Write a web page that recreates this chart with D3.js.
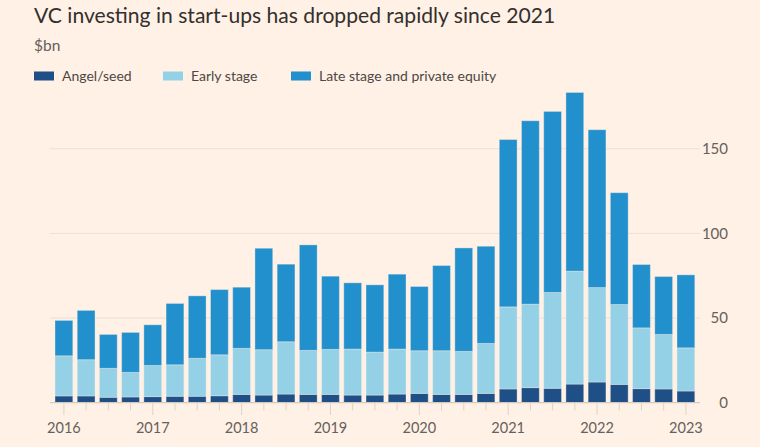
<!DOCTYPE html>
<html>
<head>
<meta charset="utf-8">
<script src="https://cdn.jsdelivr.net/npm/d3@7"></script>
<style>
  body { margin: 0; background: #fff1e5; }
  svg text { font-family: Lato, "Noto Sans", sans-serif; }
</style>
</head>
<body>
<svg id="chart" width="760" height="447"></svg>
<script>
// quarterly, Q1 2016 .. Q1 2023
const quarters = ['2016 Q1','2016 Q2','2016 Q3','2016 Q4','2017 Q1','2017 Q2','2017 Q3','2017 Q4',
  '2018 Q1','2018 Q2','2018 Q3','2018 Q4','2019 Q1','2019 Q2','2019 Q3','2019 Q4',
  '2020 Q1','2020 Q2','2020 Q3','2020 Q4','2021 Q1','2021 Q2','2021 Q3','2021 Q4',
  '2022 Q1','2022 Q2','2022 Q3','2022 Q4','2023 Q1'];
const angel = [4.0, 4.0, 3.2, 3.4, 3.6, 3.8, 3.8, 4.1, 4.9, 4.5, 5.1, 4.9, 4.9, 4.5, 4.5, 5.1,
  5.5, 4.9, 4.9, 5.5, 8.1, 8.9, 8.5, 11.0, 12.2, 10.8, 8.3, 8.1, 6.9];
const early = [23.7, 21.4, 17.1, 14.5, 18.4, 18.6, 22.4, 24.2, 27.2, 26.8, 30.9, 26.0, 26.6, 27.2, 25.4, 26.6,
  25.2, 25.8, 25.4, 29.5, 48.5, 49.3, 56.6, 66.7, 55.8, 47.2, 35.9, 32.2, 25.5];
const late = [20.9, 29.1, 20.0, 23.6, 24.0, 36.2, 36.9, 38.5, 36.1, 59.9, 45.8, 62.3, 43.2, 39.1, 39.7, 44.2,
  37.9, 50.3, 61.1, 57.4, 98.8, 108.3, 106.9, 105.5, 93.2, 66.0, 37.4, 34.2, 43.1];
const yTicks = [0, 50, 100, 150];
const seriesNames = ['Angel/seed', 'Early stage', 'Late stage and private equity'];
const seriesColors = ['#1e4f86', '#95d1e6', '#2190cc'];

const svg = d3.select('#chart');
svg.append('rect').attr('width', 760).attr('height', 447).attr('fill', '#fff1e5');

svg.append('text').attr('x', 34).attr('y', 23).attr('fill', '#33302e')
  .style('font-size', '21.1px').text('VC investing in start-ups has dropped rapidly since 2021');
svg.append('text').attr('x', 34).attr('y', 51).attr('fill', '#66605c')
  .style('font-size', '15.5px').text('$bn');

const legendX = [34, 163, 291];
const legend = svg.append('g').attr('id', 'legend');
seriesNames.forEach(function(name, i) {
  legend.append('rect').attr('x', legendX[i]).attr('y', 71.5).attr('width', 20).attr('height', 9)
    .attr('fill', seriesColors[i]);
  legend.append('text').attr('x', legendX[i] + 28).attr('y', 80.5).attr('fill', '#4d4845')
    .style('font-size', '14px').text(name);
});

const x = d3.scaleBand().domain(quarters).range([52.8, 697]).paddingInner(0.2).paddingOuter(0.1);
const y = d3.scaleLinear().domain([0, 150]).range([402.7, 148.7]);

// gridlines + y labels
const grid = svg.append('g').attr('id', 'grid');
grid.selectAll('line').data(yTicks.filter(function(d) { return d > 0; })).enter().append('line')
  .attr('x1', 50).attr('x2', 700)
  .attr('y1', function(d) { return y(d); }).attr('y2', function(d) { return y(d); })
  .attr('stroke', '#e9e0d8').attr('stroke-width', 1);
grid.selectAll('text').data(yTicks).enter().append('text')
  .attr('x', 728).attr('y', function(d) { return y(d); }).attr('dy', '0.35em')
  .attr('text-anchor', 'end').attr('fill', '#66605c').style('font-size', '15px')
  .text(function(d) { return d; });

// stacked bars
const rows = quarters.map(function(q, i) {
  return { quarter: q, angel: angel[i], early: early[i], late: late[i] };
});
const stack = d3.stack().keys(['angel', 'early', 'late'])(rows);
const bars = svg.append('g').attr('id', 'bars');
bars.selectAll('g').data(stack).enter().append('g')
  .attr('fill', function(d, i) { return seriesColors[i]; })
  .selectAll('rect').data(function(d) { return d; }).enter().append('rect')
  .attr('x', function(d) { return x(d.data.quarter); })
  .attr('width', x.bandwidth())
  .attr('y', function(d) { return y(d[1]); })
  .attr('height', function(d) { return y(d[0]) - y(d[1]); })
  .attr('stroke', '#fff1e5').attr('stroke-opacity', 0.35).attr('stroke-width', 1);

// x axis
const xAxis = svg.append('g').attr('id', 'x_axis');
xAxis.append('line').attr('x1', 50).attr('x2', 700).attr('y1', y(0)).attr('y2', y(0))
  .attr('stroke', '#d4cac1').attr('stroke-width', 1.2);
xAxis.selectAll('line.tick').data(quarters).enter().append('line').attr('class', 'tick')
  .attr('x1', function(d) { return x(d) + x.bandwidth() / 2; })
  .attr('x2', function(d) { return x(d) + x.bandwidth() / 2; })
  .attr('y1', y(0) + 0.5)
  .attr('y2', function(d) { return d.endsWith('Q1') ? 415 : 410.5; })
  .attr('stroke', '#ddd3ca').attr('stroke-width', 1);
xAxis.selectAll('text').data(quarters.filter(function(d) { return d.endsWith('Q1'); })).enter().append('text')
  .attr('x', function(d) { return x(d) + x.bandwidth() / 2; }).attr('y', 432.5)
  .attr('text-anchor', 'middle').attr('fill', '#66605c').style('font-size', '14.5px')
  .text(function(d) { return d.slice(0, 4); });
</script>
</body>
</html>
